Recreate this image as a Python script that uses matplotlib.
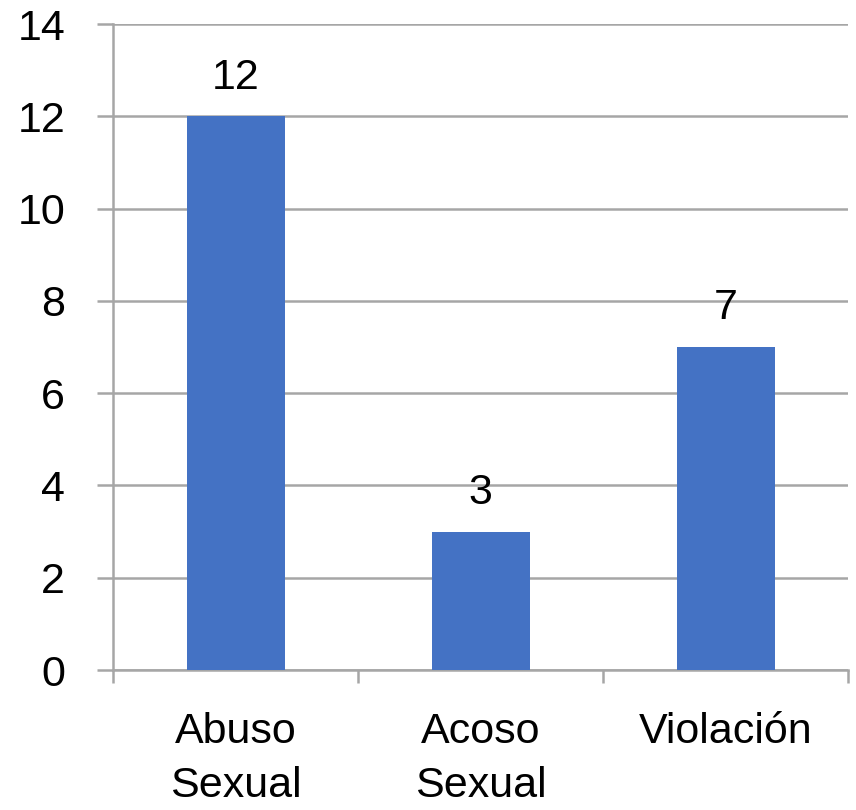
import numpy as np
import matplotlib
matplotlib.use("Agg")
import matplotlib.pyplot as plt

categories = ["Abuso\nSexual", "Acoso\nSexual", "Violación"]
values = [12, 3, 7]
yticks = [0, 2, 4, 6, 8, 10, 12, 14]

bar_color = "#4472C4"
grid_color = "#A6A6A6"

plt.rcParams["font.family"] = ["Liberation Sans", "DejaVu Sans"]

fig = plt.figure(figsize=(8.56, 8.10), dpi=100)
ax = fig.add_axes([113 / 856, 1 - 670 / 810, (848 - 113) / 856, (670 - 24) / 810])

x = np.arange(len(categories))
bars = ax.bar(x, values, width=0.4, color=bar_color, zorder=3)

for xi, v in zip(x, values):
    ax.annotate(str(v), (xi, v), xytext=(0, 20), textcoords="offset points",
                ha="center", va="baseline", fontsize=31, color="black")

ax.set_xlim(-0.5, len(categories) - 0.5)
ax.set_ylim(0, 14)
ax.set_yticks(yticks)
ax.set_yticklabels([str(t) for t in yticks])
ax.yaxis.grid(True, color=grid_color, linewidth=1.8, zorder=0)
ax.tick_params(axis="y", length=11.5, width=1.8, color=grid_color, pad=23,
               labelsize=31)

ax.set_xticks(x)
ax.set_xticklabels(categories, fontsize=31, linespacing=1.45)
ax.tick_params(axis="x", which="major", length=0, pad=30)
ax.set_xticks(np.arange(len(categories) + 1) - 0.5, minor=True)
ax.tick_params(axis="x", which="minor", length=9.5, width=1.8, color=grid_color)

for side in ["top", "right"]:
    ax.spines[side].set_visible(False)
for side in ["left", "bottom"]:
    ax.spines[side].set_color(grid_color)
    ax.spines[side].set_linewidth(1.8)

fig.savefig("out.png", dpi=100)
